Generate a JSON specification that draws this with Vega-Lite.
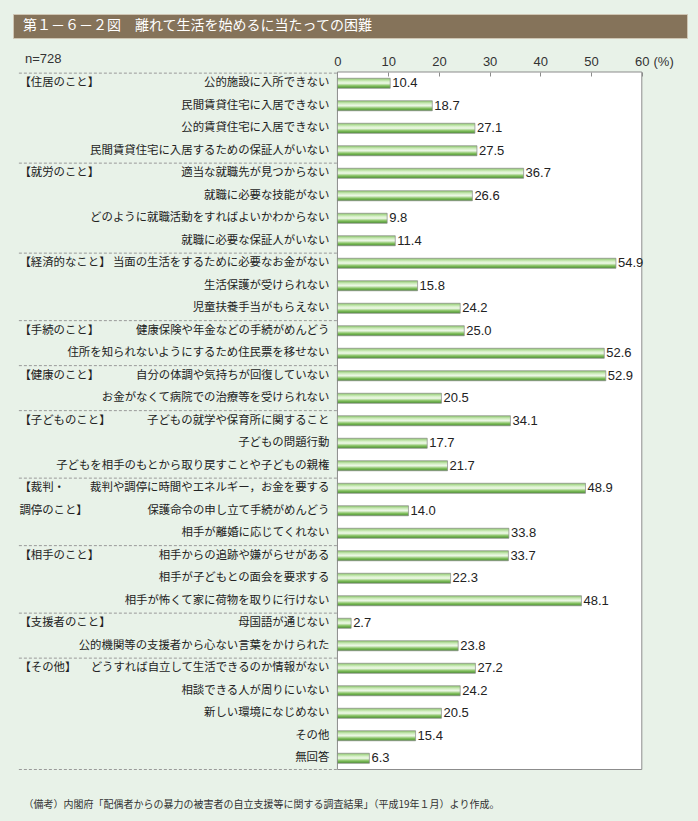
{
  "$schema": "https://vega.github.io/schema/vega-lite/v6.json",
  "background": "#e8f2e8",
  "padding": {"left": 12, "right": 12, "top": 13, "bottom": 12},
  "config": {
    "font": "Noto Sans CJK JP",
    "title": {"color": "#333", "fontWeight": "normal"},
    "concat": {"spacing": 14}
  },
  "title": {
    "text": "（備考）内閣府「配偶者からの暴力の被害者の自立支援等に関する調査結果」（平成19年１月）より作成。",
    "orient": "bottom",
    "anchor": "start",
    "frame": "bounds",
    "fontSize": 10,
    "color": "#333",
    "dx": 11,
    "offset": 30
  },
  "datasets": {
    "items": [
      {"group": "住居", "glabel": "【住居のこと】", "label": "公的施設に入所できない", "value": 10.4},
      {"group": "住居", "glabel": "", "label": "民間賃貸住宅に入居できない", "value": 18.7},
      {"group": "住居", "glabel": "", "label": "公的賃貸住宅に入居できない", "value": 27.1},
      {"group": "住居", "glabel": "", "label": "民間賃貸住宅に入居するための保証人がいない", "value": 27.5},
      {"group": "就労", "glabel": "【就労のこと】", "label": "適当な就職先が見つからない", "value": 36.7},
      {"group": "就労", "glabel": "", "label": "就職に必要な技能がない", "value": 26.6},
      {"group": "就労", "glabel": "", "label": "どのように就職活動をすればよいかわからない", "value": 9.8},
      {"group": "就労", "glabel": "", "label": "就職に必要な保証人がいない", "value": 11.4},
      {"group": "経済", "glabel": "【経済的なこと】", "label": "当面の生活をするために必要なお金がない", "value": 54.9},
      {"group": "経済", "glabel": "", "label": "生活保護が受けられない", "value": 15.8},
      {"group": "経済", "glabel": "", "label": "児童扶養手当がもらえない", "value": 24.2},
      {"group": "手続", "glabel": "【手続のこと】", "label": "健康保険や年金などの手続がめんどう", "value": 25.0},
      {"group": "手続", "glabel": "", "label": "住所を知られないようにするため住民票を移せない", "value": 52.6},
      {"group": "健康", "glabel": "【健康のこと】", "label": "自分の体調や気持ちが回復していない", "value": 52.9},
      {"group": "健康", "glabel": "", "label": "お金がなくて病院での治療等を受けられない", "value": 20.5},
      {"group": "子ども", "glabel": "【子どものこと】", "label": "子どもの就学や保育所に関すること", "value": 34.1},
      {"group": "子ども", "glabel": "", "label": "子どもの問題行動", "value": 17.7},
      {"group": "子ども", "glabel": "", "label": "子どもを相手のもとから取り戻すことや子どもの親権", "value": 21.7},
      {"group": "裁判", "glabel": "【裁判・", "label": "裁判や調停に時間やエネルギー，お金を要する", "value": 48.9},
      {"group": "裁判", "glabel": "調停のこと】", "label": "保護命令の申し立て手続がめんどう", "value": 14.0},
      {"group": "裁判", "glabel": "", "label": "相手が離婚に応じてくれない", "value": 33.8},
      {"group": "相手", "glabel": "【相手のこと】", "label": "相手からの追跡や嫌がらせがある", "value": 33.7},
      {"group": "相手", "glabel": "", "label": "相手が子どもとの面会を要求する", "value": 22.3},
      {"group": "相手", "glabel": "", "label": "相手が怖くて家に荷物を取りに行けない", "value": 48.1},
      {"group": "支援者", "glabel": "【支援者のこと】", "label": "母国語が通じない", "value": 2.7},
      {"group": "支援者", "glabel": "", "label": "公的機関等の支援者から心ない言葉をかけられた", "value": 23.8},
      {"group": "その他", "glabel": "【その他】", "label": "どうすれば自立して生活できるのか情報がない", "value": 27.2},
      {"group": "その他", "glabel": "", "label": "相談できる人が周りにいない", "value": 24.2},
      {"group": "その他", "glabel": "", "label": "新しい環境になじめない", "value": 20.5},
      {"group": "その他", "glabel": "", "label": "その他", "value": 15.4},
      {"group": "その他", "glabel": "", "label": "無回答", "value": 6.3}
    ]
  },
  "vconcat": [
    {
      "width": 674,
      "height": 24,
      "view": {"fill": "#85735a", "stroke": "#cfc6b4", "strokeWidth": 1},
      "data": {"values": [{"t": "第１－６－２図　離れて生活を始めるに当たっての困難"}]},
      "mark": {"type": "text", "align": "left", "baseline": "middle", "color": "#ffffff", "fontSize": 14, "dx": 10},
      "encoding": {
        "x": {"datum": 0, "type": "quantitative", "scale": {"domain": [0, 1]}, "axis": null},
        "text": {"field": "t"}
      }
    },
    {
      "width": 674,
      "height": 697.5,
      "view": {"stroke": null},
      "title": {
        "text": "n=728",
        "anchor": "start",
        "frame": "group",
        "font": "Liberation Sans",
        "fontSize": 13,
        "color": "#333",
        "dx": 12,
        "offset": -11
      },
      "data": {"name": "items"},
      "encoding": {
        "y": {"field": "label", "type": "nominal", "sort": null, "axis": null, "scale": {"paddingInner": 0, "paddingOuter": 0}}
      },
      "layer": [
        {
          "data": {"values": [{}]},
          "mark": {"type": "rect", "fill": "#ffffff", "stroke": "#8c8c8c", "strokeWidth": 1},
          "encoding": {
            "y": null,
            "x": {"datum": 0, "type": "quantitative",
              "scale": {"domain": [-63.96, 68.91], "nice": false, "zero": false},
              "axis": {
                "orient": "top",
                "values": [0, 10, 20, 30, 40, 50, 60],
                "domain": false,
                "grid": false,
                "tickSize": -4,
                "tickColor": "#8c8c8c",
                "labelFont": "Liberation Sans",
                "labelFontSize": 13,
                "labelColor": "#333",
                "labelPadding": 8,
                "zindex": 1,
                "title": "(%)",
                "titleFont": "Liberation Sans",
                "titleFontSize": 13,
                "titleFontWeight": "normal",
                "titleColor": "#333",
                "titleAlign": "left",
                "titleBaseline": "middle",
                "titleX": 640,
                "titleY": -11
              }
            },
            "x2": {"datum": 60}
          }
        },
        {
          "mark": {"type": "bar", "height": 10, "stroke": "#8a8a8a", "strokeWidth": 0.7,
            "fill": {"gradient": "linear", "x1": 0, "y1": 0, "x2": 0, "y2": 1,
              "stops": [
                {"offset": 0, "color": "#8cc86a"},
                {"offset": 0.3, "color": "#d3eec3"},
                {"offset": 0.5, "color": "#eef8e8"},
                {"offset": 0.75, "color": "#86c262"},
                {"offset": 1, "color": "#47902d"}
              ]}},
          "encoding": {
            "x": {"field": "value", "type": "quantitative"}
          }
        },
        {
          "mark": {"type": "text", "align": "left", "baseline": "middle", "dx": 2, "font": "Liberation Sans", "fontSize": 13, "color": "#222"},
          "encoding": {
            "x": {"field": "value", "type": "quantitative"},
            "text": {"field": "value", "type": "quantitative", "format": ".1f"}
          }
        },
        {
          "mark": {"type": "text", "align": "right", "baseline": "middle", "fontSize": 11.4, "color": "#222"},
          "encoding": {
            "x": {"datum": -1.6, "type": "quantitative"},
            "text": {"field": "label"}
          }
        },
        {
          "mark": {"type": "text", "align": "left", "baseline": "middle", "fontSize": 11.4, "color": "#222"},
          "encoding": {
            "x": {"datum": -62.7, "type": "quantitative"},
            "text": {"field": "glabel"}
          }
        },
        {
          "transform": [
            {"window": [{"op": "row_number", "as": "rn"}], "groupby": ["group"]},
            {"filter": "datum.rn === 1"}
          ],
          "mark": {"type": "rule", "stroke": "#9a9a9a", "strokeWidth": 1, "strokeDash": [3, 2]},
          "encoding": {
            "y": {"field": "label", "type": "nominal", "sort": null, "bandPosition": 0.05},
            "x": {"datum": -62.8, "type": "quantitative"},
            "x2": {"datum": 0}
          }
        },
        {
          "transform": [{"filter": "datum.label === '無回答'"}],
          "mark": {"type": "rule", "stroke": "#9a9a9a", "strokeWidth": 1, "strokeDash": [3, 2]},
          "encoding": {
            "y": {"field": "label", "type": "nominal", "sort": null, "bandPosition": 1},
            "x": {"datum": -62.8, "type": "quantitative"},
            "x2": {"datum": 0}
          }
        }
      ]
    }
  ]
}
